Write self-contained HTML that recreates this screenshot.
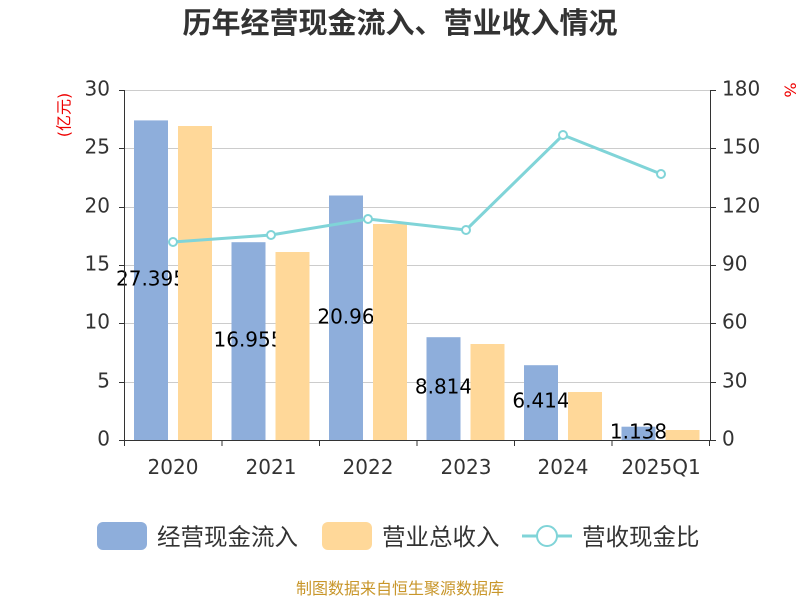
<!DOCTYPE html>
<html><head><meta charset="utf-8"><style>body{margin:0;background:#fff}svg{display:block}text{font-family:"DejaVu Sans","Noto Sans CJK SC",sans-serif}</style></head><body>
<svg width="800" height="600" xmlns="http://www.w3.org/2000/svg">
<text x="400" y="33" text-anchor="middle" font-size="29" font-weight="bold" fill="#333" style="font-family:'Noto Sans CJK SC',sans-serif">历年经营现金流入、营业收入情况</text>
<g stroke="#ccc" stroke-width="1">
<line x1="125" x2="710" y1="90.5" y2="90.5"/><line x1="125" x2="710" y1="148.5" y2="148.5"/><line x1="125" x2="710" y1="207.5" y2="207.5"/><line x1="125" x2="710" y1="265.5" y2="265.5"/><line x1="125" x2="710" y1="323.5" y2="323.5"/><line x1="125" x2="710" y1="382.5" y2="382.5"/>
</g>
<g fill="#8eaedb">
<rect x="134" y="120.4" width="34" height="319.6"/><rect x="231.5" y="242.2" width="34" height="197.8"/><rect x="329" y="195.5" width="34" height="244.5"/><rect x="426.5" y="337.2" width="34" height="102.8"/><rect x="524" y="365.2" width="34" height="74.8"/><rect x="621.5" y="426.7" width="34" height="13.3"/>
</g>
<g font-size="20" fill="#000" text-anchor="middle" dominant-baseline="middle">
<text x="151" y="280">27.395</text><text x="248.5" y="341">16.955</text><text x="346" y="318">20.96</text><text x="443.5" y="388">8.814</text><text x="541" y="402">6.414</text><text x="638.5" y="433">1.138</text>
</g>
<g fill="#ffd899">
<rect x="178" y="126" width="34" height="314"/><rect x="275.5" y="252" width="34" height="188"/><rect x="373" y="224" width="34" height="216"/><rect x="470.5" y="344" width="34" height="96"/><rect x="568" y="392" width="34" height="48"/><rect x="665.5" y="430" width="34" height="10"/>
</g>
<g stroke="#333" stroke-width="1" fill="none">
<line x1="124.5" x2="124.5" y1="90" y2="440"/><line x1="710.5" x2="710.5" y1="90" y2="440"/><line x1="124" x2="711" y1="440.5" y2="440.5"/>
<path d="M119 90.5h6M119 148.5h6M119 207.5h6M119 265.5h6M119 323.5h6M119 382.5h6M119 440.5h6M710 90.5h6M710 148.5h6M710 207.5h6M710 265.5h6M710 323.5h6M710 382.5h6M710 440.5h6"/>
<path d="M124.5 440v6M222 440v6M319.5 440v6M417 440v6M514.5 440v6M612 440v6M709.5 440v6"/>
</g>
<g font-size="20" fill="#333" text-anchor="end" dominant-baseline="middle">
<text x="110" y="90">30</text><text x="110" y="148">25</text><text x="110" y="207">20</text><text x="110" y="265">15</text><text x="110" y="323">10</text><text x="110" y="382">5</text><text x="110" y="440">0</text>
</g>
<g font-size="20" fill="#333" text-anchor="start" dominant-baseline="middle">
<text x="722" y="90">180</text><text x="722" y="148">150</text><text x="722" y="207">120</text><text x="722" y="265">90</text><text x="722" y="323">60</text><text x="722" y="382">30</text><text x="722" y="440">0</text>
</g>
<g font-size="20" fill="#333" text-anchor="middle">
<text x="173" y="474">2020</text><text x="271" y="474">2021</text><text x="368" y="474">2022</text><text x="466" y="474">2023</text><text x="563" y="474">2024</text><text x="661" y="474">2025Q1</text>
</g>
<text transform="translate(65,115) rotate(-90)" font-size="16" fill="#e00" text-anchor="middle" dominant-baseline="middle">(亿元)</text>
<text transform="translate(789,90) rotate(90)" font-size="16" fill="#e00" text-anchor="middle" dominant-baseline="middle">%</text>
<polyline points="173,242 271,235 368,219 466,230 563,135 661,174" fill="none" stroke="#80d4d8" stroke-width="3"/>
<g fill="#fff" stroke="#80d4d8" stroke-width="2">
<circle cx="173" cy="242" r="4"/><circle cx="271" cy="235" r="4"/><circle cx="368" cy="219" r="4"/><circle cx="466" cy="230" r="4"/><circle cx="563" cy="135" r="4"/><circle cx="661" cy="174" r="4"/>
</g>
<rect x="97" y="522" width="50" height="28" rx="6" fill="#8eaedb"/>
<text x="157" y="545" font-size="23.5" fill="#333">经营现金流入</text>
<rect x="322" y="522" width="50" height="28" rx="6" fill="#ffd899"/>
<text x="382" y="545" font-size="23.5" fill="#333">营业总收入</text>
<line x1="522" x2="572" y1="536" y2="536" stroke="#80d4d8" stroke-width="3"/>
<circle cx="547" cy="536" r="10" fill="#fff" stroke="#80d4d8" stroke-width="2"/>
<text x="582" y="545" font-size="23.5" fill="#333">营收现金比</text>
<text x="400" y="594" font-size="16" fill="#c8962a" text-anchor="middle">制图数据来自恒生聚源数据库</text>
</svg>
</body></html>
